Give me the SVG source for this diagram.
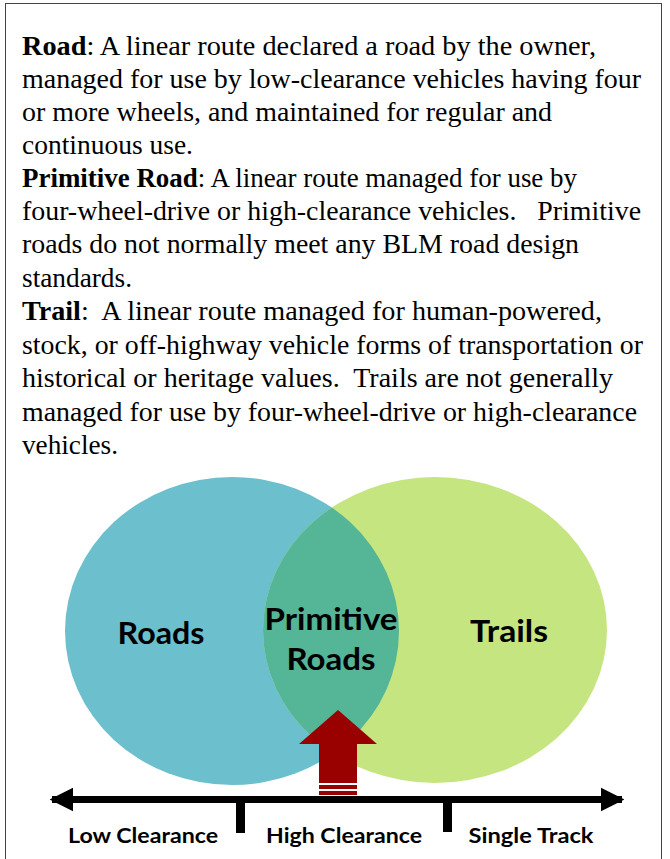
<svg xmlns="http://www.w3.org/2000/svg" width="670" height="859" viewBox="0 0 670 859">
<style>
.def{font-family:"Liberation Serif","Times New Roman",serif;font-size:28px;fill:#000}
.b{font-weight:bold}
.lbl{font-family:Lato,"Open Sans",sans-serif;font-weight:bold;fill:#000}
.big{font-size:30px}
.small{font-size:21px}
</style>
<defs>
<clipPath id="clipR"><ellipse cx="435" cy="630" rx="172" ry="153"/></clipPath>
<marker id="ah" viewBox="0 0 10 10" refX="9" refY="5" markerWidth="3.4" markerHeight="3.6" orient="auto-start-reverse" markerUnits="strokeWidth"><path d="M0,0 L10,5 L0,10 Z" fill="#000"/></marker>
</defs>
<rect x="5.5" y="3.5" width="656" height="880" fill="#fff" stroke="#444" stroke-width="1"/>
<g id="definitions">
<text class="def" x="22" y="55" textLength="574" lengthAdjust="spacingAndGlyphs"><tspan class="b">Road</tspan>: A linear route declared a road by the owner,</text>
<text class="def" x="22" y="88" textLength="619" lengthAdjust="spacingAndGlyphs">managed for use by low-clearance vehicles having four</text>
<text class="def" x="22" y="121" textLength="530" lengthAdjust="spacingAndGlyphs">or more wheels, and maintained for regular and</text>
<text class="def" x="22" y="154" textLength="171" lengthAdjust="spacingAndGlyphs">continuous use.</text>
<text class="def" x="22" y="187" textLength="555" lengthAdjust="spacingAndGlyphs"><tspan class="b">Primitive Road</tspan>: A linear route managed for use by</text>
<text class="def" x="22" y="220" textLength="619" lengthAdjust="spacingAndGlyphs">four-wheel-drive or high-clearance vehicles.&#160;&#160; Primitive</text>
<text class="def" x="22" y="253" textLength="557" lengthAdjust="spacingAndGlyphs">roads do not normally meet any BLM road design</text>
<text class="def" x="22" y="287" textLength="110" lengthAdjust="spacingAndGlyphs">standards.</text>
<text class="def" x="22" y="320" textLength="580" lengthAdjust="spacingAndGlyphs"><tspan class="b">Trail</tspan>:&#160; A linear route managed for human-powered,</text>
<text class="def" x="22" y="354" textLength="621" lengthAdjust="spacingAndGlyphs">stock, or off-highway vehicle forms of transportation or</text>
<text class="def" x="22" y="387" textLength="591" lengthAdjust="spacingAndGlyphs">historical or heritage values.&#160; Trails are not generally</text>
<text class="def" x="22" y="421" textLength="615" lengthAdjust="spacingAndGlyphs">managed for use by four-wheel-drive or high-clearance</text>
<text class="def" x="22" y="454" textLength="96" lengthAdjust="spacingAndGlyphs">vehicles.</text>
</g>
<g id="roads">
<ellipse cx="232" cy="631" rx="167" ry="154" fill="#6cbfcc"/>
<text class="lbl big" x="161" y="644" text-anchor="middle" textLength="87" lengthAdjust="spacingAndGlyphs">Roads</text>
</g>
<g id="trails">
<ellipse cx="435" cy="630" rx="172" ry="153" fill="#c4e57f"/>
<text class="lbl big" x="509" y="642" text-anchor="middle" textLength="78" lengthAdjust="spacingAndGlyphs">Trails</text>
</g>
<g id="primitive-roads">
<ellipse cx="232" cy="631" rx="167" ry="154" fill="#55b597" clip-path="url(#clipR)"/>
<text class="lbl big" x="331" y="630" text-anchor="middle" textLength="133" lengthAdjust="spacingAndGlyphs">Primitive</text>
<text class="lbl big" x="331" y="670" text-anchor="middle" textLength="89" lengthAdjust="spacingAndGlyphs">Roads</text>
</g>
<g id="arrow">
<path d="M338,710 L377,744 L357,744 L357,783 L319,783 L319,744 L299,744 Z" fill="#990000"/>
<rect x="319" y="785" width="38" height="4" fill="#990000"/>
<rect x="319" y="791" width="38" height="4" fill="#990000"/>
</g>
<g id="connectors">
<line x1="52" y1="799.5" x2="622" y2="799.5" stroke="#000" stroke-width="7" marker-start="url(#ah)" marker-end="url(#ah)"/>
<rect x="236" y="799" width="9" height="34" fill="#000"/>
<rect x="443" y="799" width="9" height="33" fill="#000"/>
</g>
<g id="scale-labels">
<text class="lbl small" x="143" y="843" text-anchor="middle" textLength="150" lengthAdjust="spacingAndGlyphs">Low Clearance</text>
<text class="lbl small" x="344" y="843" text-anchor="middle" textLength="156" lengthAdjust="spacingAndGlyphs">High Clearance</text>
<text class="lbl small" x="531" y="843" text-anchor="middle" textLength="125" lengthAdjust="spacingAndGlyphs">Single Track</text>
</g>
</svg>
